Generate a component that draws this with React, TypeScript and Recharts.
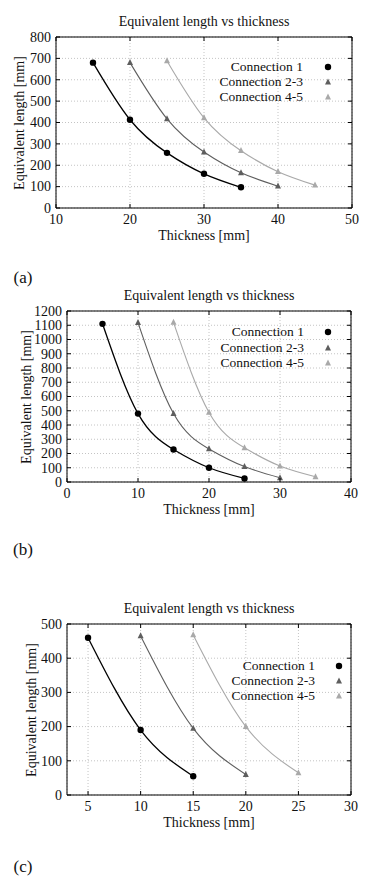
import React from 'react';
import { ComposedChart, Line, XAxis, YAxis, CartesianGrid, ReferenceLine } from 'recharts';

// ---- data ----
// (a)
const thickA1 = [15, 20, 25, 30, 35];
const lenA1 = [680, 413, 258, 160, 97];
const thickA23 = [20, 25, 30, 35, 40];
const lenA23 = [680, 417, 262, 165, 102];
const thickA45 = [25, 30, 35, 40, 45];
const lenA45 = [688, 422, 268, 170, 107];
const xTicksA = [10, 20, 30, 40, 50];
const yTicksA = [0, 100, 200, 300, 400, 500, 600, 700, 800];

// (b)
const thickB1 = [5, 10, 15, 20, 25];
const lenB1 = [1110, 480, 228, 100, 25];
const thickB23 = [10, 15, 20, 25, 30];
const lenB23 = [1118, 480, 232, 108, 30];
const thickB45 = [15, 20, 25, 30, 35];
const lenB45 = [1120, 488, 240, 112, 37];
const xTicksB = [0, 10, 20, 30, 40];
const yTicksB = [0, 100, 200, 300, 400, 500, 600, 700, 800, 900, 1000, 1100, 1200];

// (c)
const thickC1 = [5, 10, 15];
const lenC1 = [460, 190, 55];
const thickC23 = [10, 15, 20];
const lenC23 = [465, 195, 60];
const thickC45 = [15, 20, 25];
const lenC45 = [468, 200, 65];
const xTicksC = [5, 10, 15, 20, 25, 30];
const yTicksC = [0, 100, 200, 300, 400, 500];

const seriesNames = ['Connection 1', 'Connection 2-3', 'Connection 4-5'];
const panelLabels = ['(a)', '(b)', '(c)'];

const zip = (xs: number[], ys: number[]) => xs.map((x, i) => ({ x, y: ys[i] }));

const FONT = '"Liberation Serif", "Times New Roman", serif';
const COLORS = ['#000000', '#5e5e5e', '#a9a9a9'];
const SHAPES = ['circle', 'triangle', 'triangle'];
const WIDTHS = [1.3, 1.1, 1.1];

function marker(shape: string, color: string, cx: number, cy: number, key?: any) {
  if (shape === 'circle') return <circle key={key} cx={cx} cy={cy} r={3.2} fill={color} />;
  return (
    <path
      key={key}
      d={`M${cx},${cy - 3.6} L${cx + 3},${cy + 2.4} L${cx - 3},${cy + 2.4} Z`}
      fill={color}
    />
  );
}

const makeDot = (shape: string, color: string) => (props: any) => {
  const { cx, cy, index } = props;
  if (cx == null || cy == null) return <g key={index} />;
  return marker(shape, color, cx, cy, index);
};

interface PanelCfg {
  top: number;
  plotTop: number;
  plotLeft: number;
  plotRight: number;
  plotBottom: number;
  xDomain: [number, number];
  xTicks: number[];
  yDomain: [number, number];
  yTicks: number[];
  series: { x: number; y: number }[][];
  yLabelX: number;
  legendRight: number;
  legendMarkerX: number;
  legendY: number;
  panelLabelY: number;
  label: string;
}

const panels: PanelCfg[] = [
  {
    top: 0, plotTop: 37, plotLeft: 56, plotRight: 352, plotBottom: 208,
    xDomain: [10, 50], xTicks: xTicksA, yDomain: [0, 800], yTicks: yTicksA,
    series: [zip(thickA1, lenA1), zip(thickA23, lenA23), zip(thickA45, lenA45)],
    yLabelX: 20, legendRight: 303, legendMarkerX: 328, legendY: 66.7, panelLabelY: 277,
    label: panelLabels[0],
  },
  {
    top: 275, plotTop: 311, plotLeft: 67, plotRight: 351, plotBottom: 482,
    xDomain: [0, 40], xTicks: xTicksB, yDomain: [0, 1200], yTicks: yTicksB,
    series: [zip(thickB1, lenB1), zip(thickB23, lenB23), zip(thickB45, lenB45)],
    yLabelX: 27, legendRight: 304, legendMarkerX: 328, legendY: 332.3, panelLabelY: 549,
    label: panelLabels[1],
  },
  {
    top: 588, plotTop: 624, plotLeft: 67, plotRight: 351, plotBottom: 795,
    xDomain: [3, 30], xTicks: xTicksC, yDomain: [0, 500], yTicks: yTicksC,
    series: [zip(thickC1, lenC1), zip(thickC23, lenC23), zip(thickC45, lenC45)],
    yLabelX: 32, legendRight: 315, legendMarkerX: 339, legendY: 666, panelLabelY: 866,
    label: panelLabels[2],
  },
];

const PANEL_H = 250;
const TICK = 4;

function centered(text: string, x: number, y: number, size: number, rotate = false) {
  return (
    <div
      style={{
        position: 'absolute',
        left: x,
        top: y,
        transform: `translate(-50%, -50%)${rotate ? ' rotate(-90deg)' : ''}`,
        whiteSpace: 'nowrap',
        fontSize: size,
        lineHeight: 1,
        fontFamily: FONT,
        color: '#111',
      }}
    >
      {text}
    </div>
  );
}

function Panel({ cfg }: { cfg: PanelCfg }) {
  const { top, plotTop, plotLeft, plotRight, plotBottom } = cfg;
  const mTop = plotTop - top;
  const xAxisH = PANEL_H - (plotBottom - top);
  const cx = (plotLeft + plotRight) / 2;
  const cy = (plotTop + plotBottom) / 2;

  const yTick = (props: any) => {
    const { y, payload } = props;
    return (
      <g>
        <line x1={plotLeft} x2={plotLeft + TICK} y1={y} y2={y} stroke="#000" />
        <line x1={plotRight} x2={plotRight - TICK} y1={y} y2={y} stroke="#000" />
        <text x={plotLeft - 5} y={y} dy="0.34em" textAnchor="end" fontSize={14} fontFamily={FONT} fill="#111">
          {payload.value}
        </text>
      </g>
    );
  };

  const xTick = (props: any) => {
    const { x, payload } = props;
    const b = plotBottom - top;
    const t = mTop;
    return (
      <g>
        <line x1={x} x2={x} y1={b} y2={b - TICK} stroke="#000" />
        <line x1={x} x2={x} y1={t} y2={t + TICK} stroke="#000" />
        <text x={x} y={b + 6} dy="0.72em" textAnchor="middle" fontSize={14} fontFamily={FONT} fill="#111">
          {payload.value}
        </text>
      </g>
    );
  };

  return (
    <>
      <div style={{ position: 'absolute', left: 0, top, width: 388, height: PANEL_H }}>
        <ComposedChart
          width={388}
          height={PANEL_H}
          margin={{ top: mTop, right: 388 - plotRight, left: 0, bottom: 0 }}
        >
          <CartesianGrid stroke="#c4c4c4" strokeDasharray="1 2" />
          <XAxis
            type="number"
            dataKey="x"
            domain={cfg.xDomain}
            ticks={cfg.xTicks}
            allowDataOverflow
            height={xAxisH}
            axisLine={{ stroke: '#000' }}
            tickLine={false}
            tick={xTick}
            interval={0}
          />
          <YAxis
            type="number"
            domain={cfg.yDomain}
            ticks={cfg.yTicks}
            allowDataOverflow
            width={plotLeft}
            axisLine={{ stroke: '#000' }}
            tickLine={false}
            tick={yTick}
            interval={0}
          />
          <ReferenceLine y={cfg.yDomain[1]} stroke="#000" />
          <ReferenceLine x={cfg.xDomain[1]} stroke="#000" />
          {cfg.series.map((d, i) => (
            <Line
              key={seriesNames[i]}
              name={seriesNames[i]}
              data={d}
              dataKey="y"
              type="natural"
              stroke={COLORS[i]}
              strokeWidth={WIDTHS[i]}
              dot={makeDot(SHAPES[i], COLORS[i])}
              activeDot={false}
              isAnimationActive={false}
            />
          ))}
        </ComposedChart>
      </div>
      {centered('Equivalent length vs thickness', cx, plotTop - 15, 14)}
      {centered('Thickness [mm]', cx, plotBottom + 28, 14)}
      {centered('Equivalent length [mm]', cfg.yLabelX, cy, 14, true)}
      {centered(cfg.label, 23, cfg.panelLabelY, 17)}
      {seriesNames.map((name, i) => {
        const ry = cfg.legendY + i * 15.2;
        return (
          <React.Fragment key={name}>
            <div
              style={{
                position: 'absolute',
                right: 388 - cfg.legendRight,
                top: ry,
                transform: 'translateY(-50%)',
                whiteSpace: 'nowrap',
                fontSize: 13.5,
                lineHeight: 1,
                fontFamily: FONT,
                color: '#111',
              }}
            >
              {name}
            </div>
            <svg
              width={12}
              height={12}
              style={{ position: 'absolute', left: cfg.legendMarkerX - 6, top: ry - 6 }}
            >
              {marker(SHAPES[i], COLORS[i], 6, 6)}
            </svg>
          </React.Fragment>
        );
      })}
    </>
  );
}

export default function App() {
  return (
    <div
      style={{
        position: 'absolute',
        left: 0,
        top: 0,
        width: 388,
        height: 885,
        background: '#fff',
        overflow: 'hidden',
      }}
    >
      {panels.map((p) => (
        <Panel key={p.label} cfg={p} />
      ))}
    </div>
  );
}
